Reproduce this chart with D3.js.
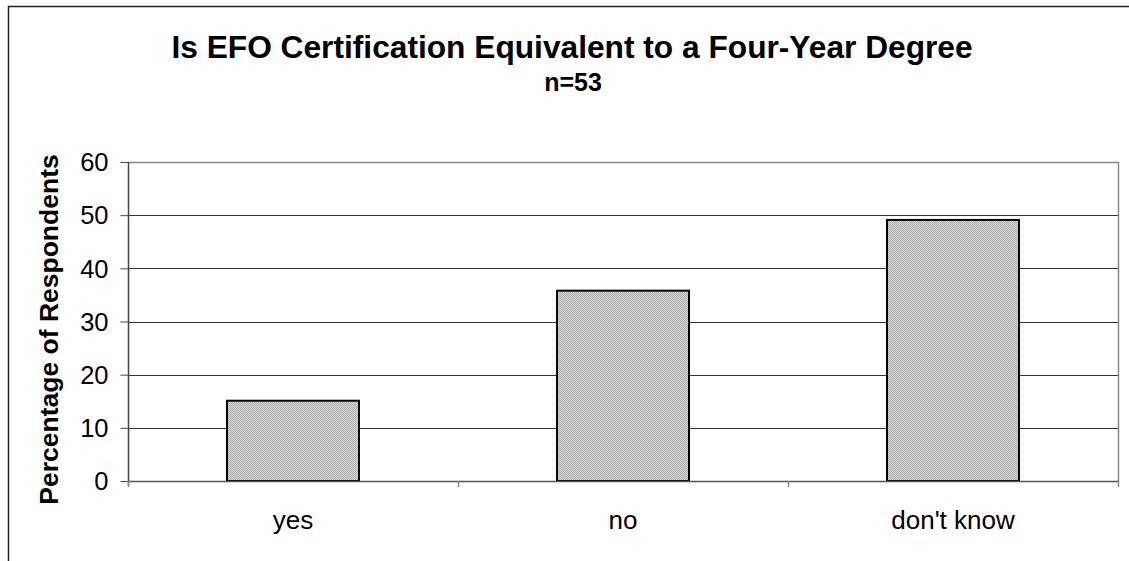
<!DOCTYPE html>
<html>
<head>
<meta charset="utf-8">
<script src="https://cdn.jsdelivr.net/npm/d3@7"></script>
<style>
  html, body { margin: 0; padding: 0; background: #fff; }
  svg { display: block; }
  text { font-family: "Liberation Sans", Arial, sans-serif; fill: #000; }
</style>
</head>
<body>
<svg id="chart" width="1129" height="561"></svg>
<script>
const titleText = "Is EFO Certification Equivalent to a Four-Year Degree";
const subtitleText = "n=53";
const yAxisTitle = "Percentage of Respondents";
const categories = ["yes", "no", "don't know"];
const values = [15.1, 35.8, 49.1];
const yTicks = [0, 10, 20, 30, 40, 50, 60];

const svg = d3.select("#chart");
const W = 1129, H = 561;
const plot = { left: 128, right: 1118, top: 162, bottom: 481 };

// pattern fill for bars
const defs = svg.append("defs");
const pat = defs.append("pattern").attr("id", "dots")
  .attr("patternUnits", "userSpaceOnUse").attr("width", 2).attr("height", 2);
pat.append("rect").attr("width", 2).attr("height", 2).attr("fill", "#d4d4d4");
pat.append("rect").attr("x", 0).attr("y", 0).attr("width", 1).attr("height", 1).attr("fill", "#b0b0b0");
pat.append("rect").attr("x", 1).attr("y", 1).attr("width", 1).attr("height", 1).attr("fill", "#b0b0b0");

// outer chart frame
svg.append("rect").attr("x", 8.5).attr("y", 6.5).attr("width", W + 20).attr("height", H + 20)
  .attr("fill", "none").attr("stroke", "#222").attr("stroke-width", 1.5);

const x = d3.scaleBand().domain(categories).range([plot.left, plot.right]).paddingInner(0.6).paddingOuter(0.3);
const xOuter = d3.scaleBand().domain(categories).range([plot.left, plot.right]);
const y = d3.scaleLinear().domain([0, 60]).range([plot.bottom, plot.top]);

// gridlines
svg.append("g").selectAll("line").data(yTicks.filter(d => d > 0 && d < 60)).join("line")
  .attr("x1", plot.left).attr("x2", plot.right)
  .attr("y1", d => Math.round(y(d)) + 0.5).attr("y2", d => Math.round(y(d)) + 0.5)
  .attr("stroke", "#333").attr("stroke-width", 1);

// plot area border top & right (gray)
svg.append("line").attr("x1", plot.left).attr("x2", plot.right + 1)
  .attr("y1", Math.round(y(60)) + 0.5).attr("y2", Math.round(y(60)) + 0.5)
  .attr("stroke", "#888").attr("stroke-width", 1.5);
svg.append("line").attr("x1", plot.right + 0.5).attr("x2", plot.right + 0.5)
  .attr("y1", plot.top).attr("y2", plot.bottom)
  .attr("stroke", "#888").attr("stroke-width", 1.5);

// bars
svg.append("g").selectAll("rect").data(categories).join("rect")
  .attr("x", d => x(d))
  .attr("y", (d, i) => y(values[i]))
  .attr("width", x.bandwidth())
  .attr("height", (d, i) => y(0) - y(values[i]))
  .attr("fill", "url(#dots)")
  .attr("stroke", "#000").attr("stroke-width", 2);

// y axis
const yAxis = d3.axisLeft(y).tickValues(yTicks).tickSize(8).tickPadding(12).tickFormat(d3.format("d"));
const gy = svg.append("g").attr("transform", `translate(${plot.left + 0.5},0)`).call(yAxis);
gy.select(".domain").attr("stroke", "#444").attr("stroke-width", 1.5)
  .attr("d", `M0,${plot.top}V${plot.bottom + 4}`);
gy.selectAll(".tick line").attr("stroke", "#444");
gy.selectAll(".tick text").attr("font-size", 25.5).attr("font-family", "Liberation Sans, Arial, sans-serif")
  .attr("fill", "#000").attr("dy", "0.34em");

// x axis
const xAxis = d3.axisBottom(xOuter).tickSize(0).tickPadding(29);
const gx = svg.append("g").attr("transform", `translate(0,${plot.bottom + 0.5})`).call(xAxis);
gx.select(".domain").attr("stroke", "#555").attr("stroke-width", 1.5)
  .attr("d", `M${plot.left},0H${plot.right + 1}`);
gx.selectAll(".tick text").attr("font-size", 26).attr("font-family", "Liberation Sans, Arial, sans-serif")
  .attr("fill", "#000");
// category separator ticks
const sepPos = [plot.left, ...categories.map(c => xOuter(c) + xOuter.bandwidth())];
svg.append("g").selectAll("line").data(sepPos).join("line")
  .attr("x1", d => Math.round(d) + 0.5).attr("x2", d => Math.round(d) + 0.5)
  .attr("y1", plot.bottom).attr("y2", plot.bottom + 6)
  .attr("stroke", "#888").attr("stroke-width", 1.5);

// titles
svg.append("text").attr("x", 572).attr("y", 58).attr("text-anchor", "middle")
  .attr("font-size", 31.7).attr("font-weight", "bold").text(titleText);
svg.append("text").attr("x", 573).attr("y", 91).attr("text-anchor", "middle")
  .attr("font-size", 25).attr("font-weight", "bold").text(subtitleText);
svg.append("text").attr("transform", `translate(58,${(plot.top + plot.bottom) / 2 + 8}) rotate(-90)`)
  .attr("text-anchor", "middle").attr("font-size", 26.5).attr("font-weight", "bold").text(yAxisTitle);
</script>
</body>
</html>
